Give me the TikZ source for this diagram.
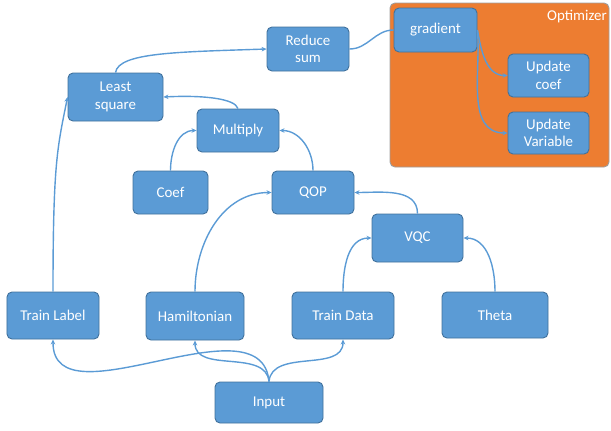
\documentclass[tikz,border=0pt]{standalone}
\usepackage{fontspec}
\setmainfont{Carlito}
\usetikzlibrary{arrows.meta}
\definecolor{boxfill}{HTML}{5B9BD5}
\definecolor{boxline}{HTML}{41719C}
\definecolor{optfill}{HTML}{ED7D31}
\definecolor{optline}{HTML}{9E9E9E}
\definecolor{linkcol}{HTML}{5B9BD5}
\tikzset{
  box/.style={rectangle, rounded corners=5bp, fill=boxfill, draw=boxline, line width=0.9bp,
    text=white, align=center, inner sep=0pt,
    font=\fontsize{15}{17.7}\selectfont},
  link/.style={draw=linkcol, line width=1.4bp, -{Stealth[length=5bp,width=4.5bp]}},
  plainlink/.style={draw=linkcol, line width=1.4bp},
}
\begin{document}
\begin{tikzpicture}[x=1bp,y=-1bp]
\useasboundingbox (0,0) rectangle (611,430);
% optimizer panel
\node[rectangle, rounded corners=5bp, fill=optfill, draw=optline, line width=0.9bp,
  minimum width=219bp, minimum height=164bp, inner sep=0pt] (opt) at (499.5,85) {};
\node[anchor=north east, text=white, inner sep=0pt, font=\fontsize{15}{17.7}\selectfont] (optlabel) at (607,10) {Optimizer};
% nodes
\node[box, minimum width=83bp, minimum height=44bp] (grad) at (435.5,30) {gradient};
\node[box, minimum width=81bp, minimum height=43bp] (ucoef) at (548.5,75.5) {Update\\coef};
\node[box, minimum width=81bp, minimum height=42bp] (uvar) at (548.5,133) {Update\\Variable};
\node[box, minimum width=82bp, minimum height=44bp] (reduce) at (308,49) {Reduce\\sum};
\node[box, minimum width=95bp, minimum height=48bp] (least) at (115.5,97) {Least\\square};
\node[box, minimum width=82bp, minimum height=43bp] (mult) at (238,130.5) {Multiply};
\node[box, minimum width=75bp, minimum height=43bp] (coef) at (170.5,192.5) {Coef};
\node[box, minimum width=82bp, minimum height=43bp] (qop) at (313,192.5) {QOP};
\node[box, minimum width=91bp, minimum height=48bp] (vqc) at (417.5,238) {VQC};
\node[box, minimum width=92bp, minimum height=47bp] (tlabel) at (53,315.5) {Train Label};
\node[box, minimum width=98bp, minimum height=48bp] (ham) at (195,316) {Hamiltonian};
\node[box, minimum width=102bp, minimum height=47bp] (tdata) at (343,315.5) {Train Data};
\node[box, minimum width=106bp, minimum height=46bp] (theta) at (495,315) {Theta};
\node[box, minimum width=108bp, minimum height=41bp] (input) at (269,402.5) {Input};
% connectors
\draw[link] (input.north) to[out=95,in=-90] (tlabel.south);
\draw[link] (input.north) to[out=95,in=-90] (ham.south);
\draw[link] (input.north) to[out=85,in=-90] (tdata.south);
\draw[link] (tlabel.north) .. controls +(0,-130) and +(-10,50) .. (least.west);
\draw[link] (mult.north) .. controls +(-3,-10) and +(40,-2) .. (least.east);
\draw[link] (least.north) .. controls +(3,-20) and +(-90,3) .. (reduce.west);
\draw[plainlink] (reduce.east) to[out=0,in=180] (grad.west);
\draw[link] (grad.east) to[out=-80,in=180] (ucoef.west);
\draw[link] (grad.east) to[out=-85,in=180] (uvar.west);
\draw[link] (coef.north) to[out=90,in=180] (mult.west);
\draw[link] (qop.north) to[out=90,in=0] (mult.east);
\draw[link] (ham.north) to[out=90,in=180] (qop.west);
\draw[link] (vqc.north) to[out=90,in=0] (qop.east);
\draw[link] (tdata.north) to[out=90,in=180] (vqc.west);
\draw[link] (theta.north) to[out=90,in=0] (vqc.east);
\end{tikzpicture}
\end{document}
